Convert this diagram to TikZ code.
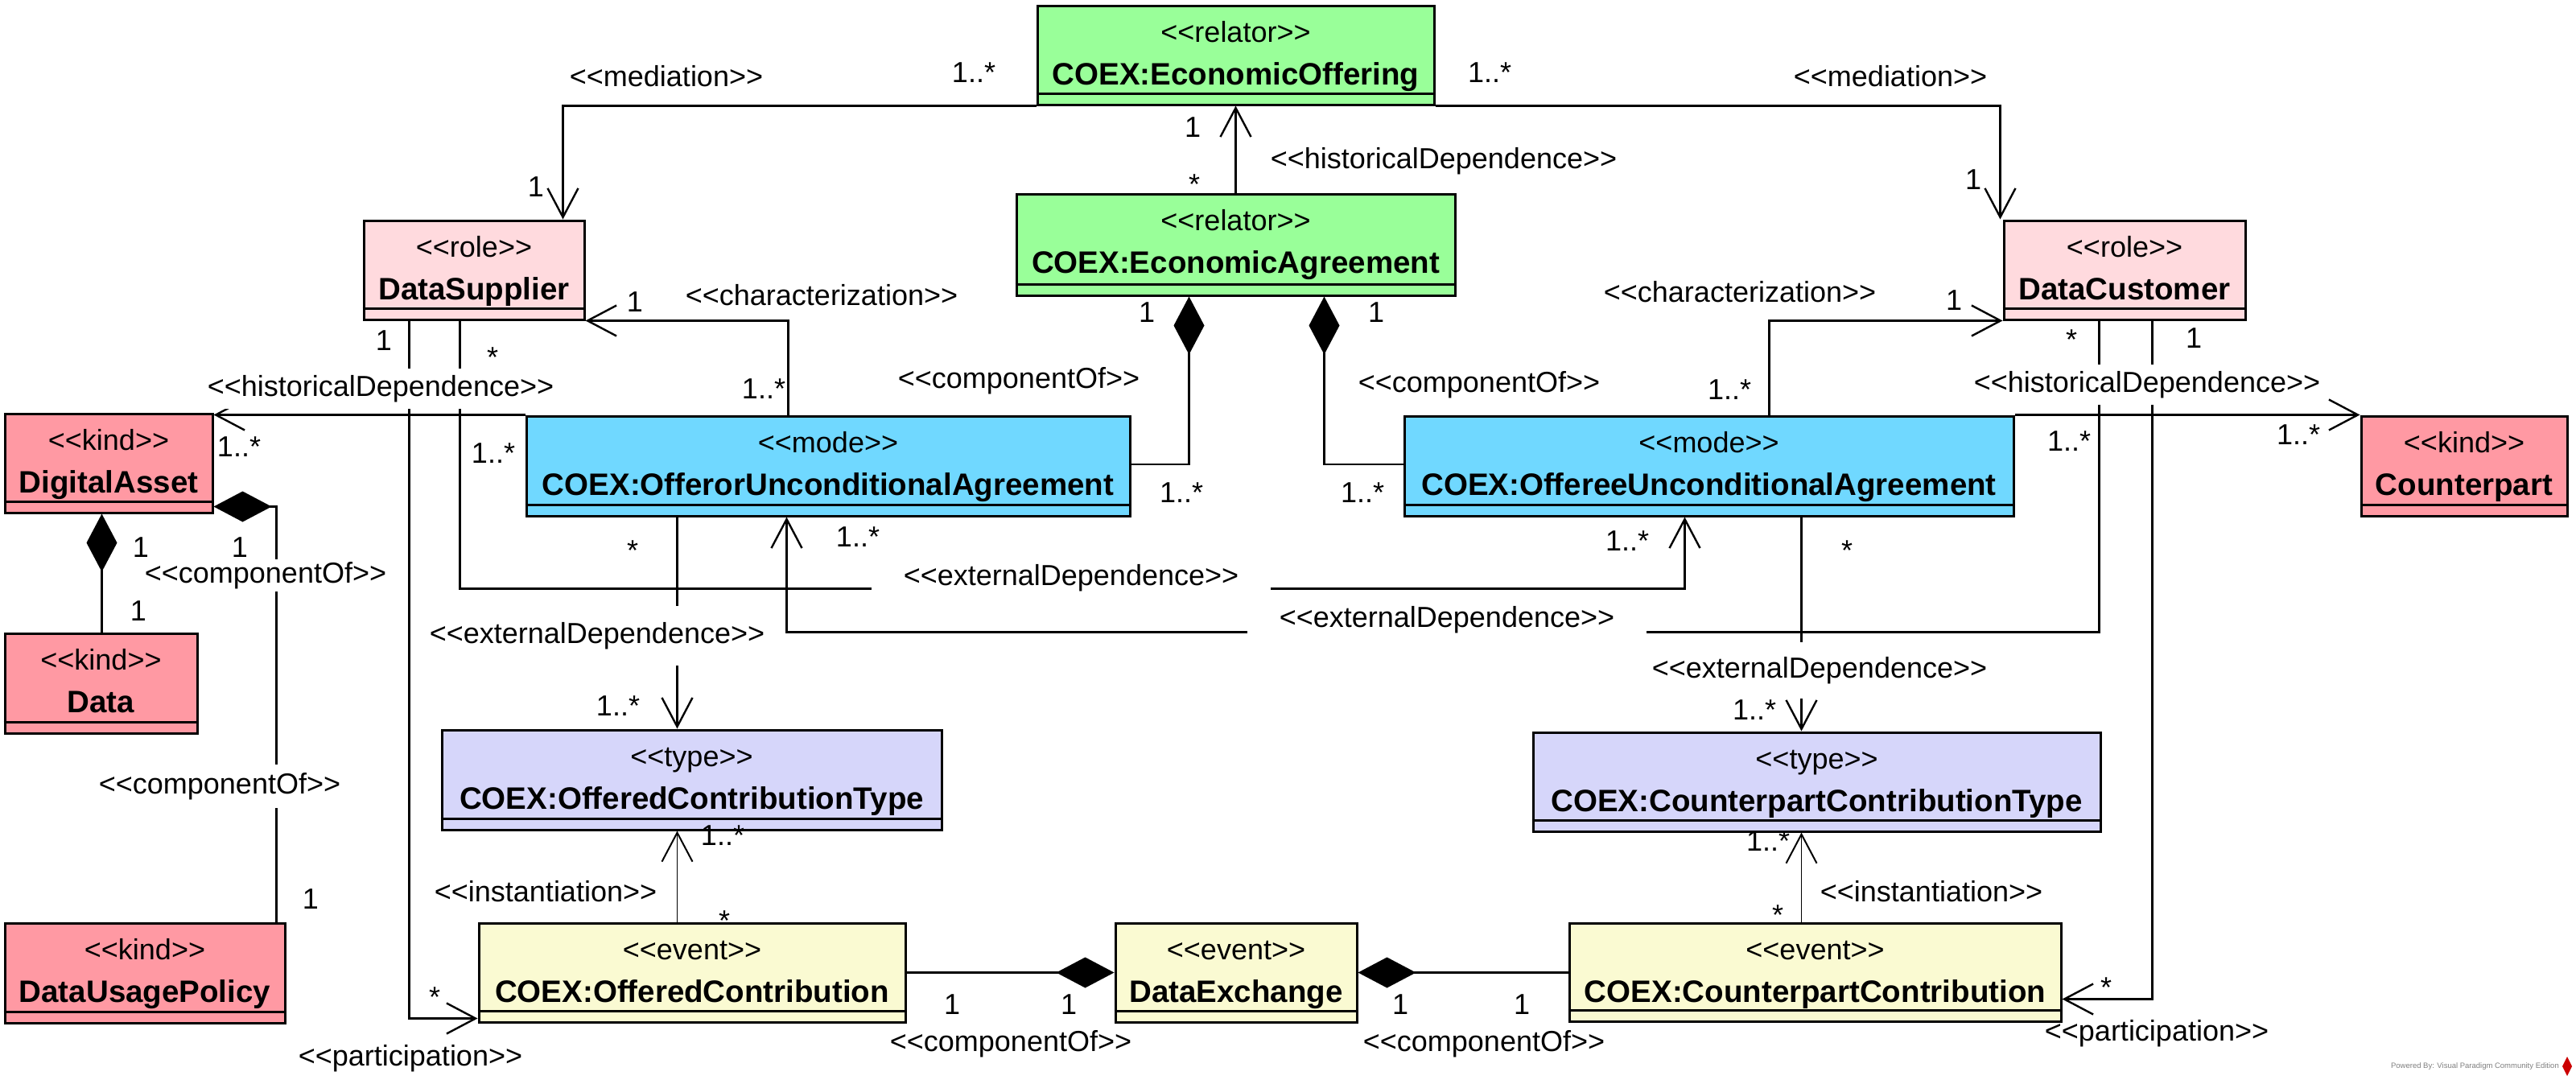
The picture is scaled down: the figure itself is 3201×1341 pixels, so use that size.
\documentclass[tikz,border=0pt]{standalone}
\usepackage{fontspec}
\setmainfont{Liberation Sans}
\usetikzlibrary{arrows.meta}
\definecolor{relc}{RGB}{153,255,153}
\definecolor{rolec}{RGB}{255,218,222}
\definecolor{kindc}{RGB}{255,153,163}
\definecolor{modec}{RGB}{112,216,255}
\definecolor{typec}{RGB}{214,214,250}
\definecolor{evc}{RGB}{250,250,210}
\newcommand{\stl}{<\kern0pt<}
\newcommand{\stg}{>\kern0pt>}
\newcommand{\st}[1]{\stl#1\stg}
\tikzset{
  umlbox/.style={draw=black, line width=3pt, inner sep=0pt},
  stereo/.style={font=\fontsize{36}{40}\selectfont, anchor=base, inner sep=0pt},
  nametext/.style={font=\fontsize{38.5}{42}\selectfont\bfseries, anchor=base, inner sep=0pt},
  conn/.style={line width=2.4pt, line join=miter},
  thinconn/.style={line width=1.5pt},
  oarrow/.style={-{Straight Barb[length=36pt,width=38pt]}},
  comp/.style={{Diamond[length=72pt,width=38pt]}-},
  lab/.style={font=\fontsize{36}{40}\selectfont, inner sep=0pt},
  wlab/.style={font=\fontsize{36}{40}\selectfont, fill=white, inner xsep=3pt, inner ysep=8pt},
  mult/.style={font=\fontsize{36}{40}\selectfont, inner sep=0pt},
}
\newcommand{\ubox}[8]{%
  \node[umlbox, fill=#6, minimum width={#4-#2}, minimum height={#5-#3}] (#1) at ({(#2+#4)/2},{(#3+#5)/2}) {};
  \draw[line width=3pt] (#1.south west) ++(0,15pt) -- ++({#4-#2},0);
  \node[stereo] at ({(#2+#4)/2},{#3+45}) {\st{#7}};
  \node[nametext] at ({(#2+#4)/2},{#3+98}) {#8};
}
\begin{document}
\begin{tikzpicture}[x=1pt,y=-1pt]
\fill[white] (0,0) rectangle (3201,1341);
\useasboundingbox (0,0) rectangle (3201,1341);

% boxes
\ubox{eo}{1289}{7}{1782}{130}{relc}{relator}{COEX:EconomicOffering}
\ubox{ea}{1263}{241}{1808}{367}{relc}{relator}{COEX:EconomicAgreement}
\ubox{ds}{452}{274}{726}{397}{rolec}{role}{DataSupplier}
\ubox{dc}{2490}{274}{2790}{397}{rolec}{role}{DataCustomer}
\ubox{da}{6}{514}{264}{637}{kindc}{kind}{DigitalAsset}
\ubox{data}{6}{787}{245}{911}{kindc}{kind}{Data}
\ubox{dup}{6}{1147}{354}{1271}{kindc}{kind}{DataUsagePolicy}
\ubox{off}{654}{517}{1404}{641}{modec}{mode}{COEX:OfferorUnconditionalAgreement}
\ubox{ofe}{1745}{517}{2502}{641}{modec}{mode}{COEX:OffereeUnconditionalAgreement}
\ubox{cp}{2934}{517}{3190}{641}{kindc}{kind}{Counterpart}
\ubox{oct}{549}{907}{1170}{1031}{typec}{type}{COEX:OfferedContributionType}
\ubox{cct}{1905}{910}{2610}{1033}{typec}{type}{COEX:CounterpartContributionType}
\ubox{oc}{595}{1147}{1125}{1270}{evc}{event}{COEX:OfferedContribution}
\ubox{dx}{1386}{1147}{1686}{1270}{evc}{event}{DataExchange}
\ubox{cc}{1950}{1147}{2561}{1269}{evc}{event}{COEX:CounterpartContribution}

% connectors
\draw[conn,oarrow] (eo.south west) -| ([xshift=249pt]ds.north west);
\draw[conn,oarrow] (eo.south east) -| ([xshift=-3pt]dc.north west);
\draw[conn,oarrow] (ea.north) -- (eo.south);
\draw[conn,oarrow] ([xshift=327pt]off.north west) |- (ds.south east);
\draw[conn,oarrow] ([xshift=455pt]ofe.north west) |- (dc.south west);
\draw[conn,comp] ([xshift=216pt]ea.south west) |- ([yshift=2pt]off.east);
\draw[conn,comp] ([xshift=384pt]ea.south west) |- ([yshift=2pt]ofe.west);
\draw[conn,oarrow] (off.north west) -- (da.east |- off.north west);
\draw[conn,oarrow] (ofe.north east) -- (cp.west |- ofe.north east);
\draw[conn,oarrow] ([xshift=121pt]ds.south west) -- ++(0,333) -| ([xshift=350pt]ofe.south west);
\draw[conn,oarrow] ([xshift=120pt]dc.south west) -- ++(0,387) -| ([xshift=325pt]off.south west);
\coordinate (t1) at ([xshift=189pt]off.south west);
\draw[conn,oarrow] (t1) -- (t1 |- oct.north);
\coordinate (t2) at ([xshift=495pt]ofe.south west);
\draw[conn,oarrow] (t2) -- (t2 |- cct.north);
\coordinate (i1) at ([xshift=248pt]oc.north west);
\draw[thinconn,-{Straight Barb[length=36pt,width=38pt,line width=2pt]}] (i1) -- (i1 |- oct.south);
\coordinate (i2) at ([xshift=290pt]cc.north west);
\draw[thinconn,-{Straight Barb[length=36pt,width=38pt,line width=2pt]}] (i2) -- (i2 |- cct.south);
\coordinate (c1) at ([xshift=122pt]da.south west);
\draw[conn,comp] (c1) -- (c1 |- data.north);
\draw[conn,comp] ([yshift=9pt]da.south east) -| ([xshift=339pt]dup.north west);
\draw[conn,comp] (dx.west) -- (oc.east |- dx.west);
\draw[conn,comp] (dx.east) -- (cc.west |- dx.east);
\draw[conn,oarrow] ([xshift=58pt]ds.south west) |- ([yshift=6pt]oc.south west);
\draw[conn,oarrow] ([xshift=186pt]dc.south west) |- ([yshift=29pt]cc.south east);

% connector labels
\node[lab] (l1) at (828,95) {\st{mediation}};
\node[lab] (l2) at (2349,95) {\st{mediation}};
\node[lab] (l3) at (1794,200) {\st{historicalDependence}};
\node[lab] (l4) at (1021,367) {\st{characterization}};
\node[lab] (l5) at (2162,363) {\st{characterization}};
\node[lab] (l6) at (1266,473) {\st{componentOf}};
\node[lab] (l7) at (1838,478) {\st{componentOf}};
\node[wlab] (l8) at (473,483) {\st{historicalDependence}};
\node[wlab] (l9) at (2668,478) {\st{historicalDependence}};
\node[wlab, inner xsep=40pt] (l10) at (1331,718) {\st{externalDependence}};
\node[wlab, inner xsep=40pt] (l11) at (1798,770) {\st{externalDependence}};
\node[wlab, inner ysep=20pt] (l12) at (742,790) {\st{externalDependence}};
\node[wlab, inner ysep=18pt] (l13) at (2261,833) {\st{externalDependence}};
\node[wlab, inner ysep=3pt] (l14) at (330,715) {\st{componentOf}};
\node[wlab, inner ysep=10pt] (l15) at (273,977) {\st{componentOf}};
\node[lab] (l16) at (678,1108) {\st{instantiation}};
\node[lab] (l17) at (2400,1108) {\st{instantiation}};
\node[lab] (l18) at (1256,1297) {\st{componentOf}};
\node[lab] (l19) at (1844,1297) {\st{componentOf}};
\node[lab] (l20) at (510,1315) {\st{participation}};
\node[lab] (l21) at (2680,1284) {\st{participation}};

% multiplicities
\node[mult] (m1) at (1210,90) {1..*};
\node[mult] (m2) at (666,232) {1};
\node[mult] (m3) at (1851,90) {1..*};
\node[mult] (m4) at (2452,223) {1};
\node[mult] (m5) at (1482,158) {1};
\node[mult] (m6) at (1484,229) {*};
\node[mult] (m7) at (789,375) {1};
\node[mult] (m8) at (949,483) {1..*};
\node[mult] (m9) at (2428,373) {1};
\node[mult] (m10) at (2149,484) {1..*};
\node[mult] (m11) at (1425,388) {1};
\node[mult] (m12) at (1468,612) {1..*};
\node[mult] (m13) at (1710,388) {1};
\node[mult] (m14) at (1693,612) {1..*};
\node[mult] (m15) at (297,555) {1..*};
\node[mult] (m16) at (613,563) {1..*};
\node[mult] (m17) at (2856,540) {1..*};
\node[mult] (m18) at (2571,548) {1..*};
\node[mult] (m19) at (477,423) {1};
\node[mult] (m20) at (612,444) {*};
\node[mult] (m21) at (2574,422) {*};
\node[mult] (m22) at (2726,420) {1};
\node[mult] (m23) at (2022,672) {1..*};
\node[mult] (m24) at (1066,667) {1..*};
\node[mult] (m25) at (786,684) {*};
\node[mult] (m26) at (768,877) {1..*};
\node[mult] (m27) at (2295,684) {*};
\node[mult] (m28) at (2180,882) {1..*};
\node[mult] (m29) at (898,1038) {1..*};
\node[mult] (m30) at (900,1144) {*};
\node[mult] (m31) at (2197,1045) {1..*};
\node[mult] (m32) at (2209,1137) {*};
\node[mult] (m33) at (175,680) {1};
\node[mult] (m34) at (172,759) {1};
\node[mult] (m35) at (298,680) {1};
\node[mult] (m36) at (386,1117) {1};
\node[mult] (m37) at (1183,1248) {1};
\node[mult] (m38) at (1328,1248) {1};
\node[mult] (m39) at (1740,1248) {1};
\node[mult] (m40) at (1891,1248) {1};
\node[mult] (m41) at (540,1239) {*};
\node[mult] (m42) at (2617,1227) {*};

% watermark
\node[font=\fontsize{9.5}{11}\selectfont, text=gray, anchor=east, inner sep=0pt] (wm) at (3180,1325) {Powered By: Visual Paradigm Community Edition};
\fill[red!80!black] (3190,1313) -- (3196,1325) -- (3190,1337) -- (3184,1325) -- cycle;
\end{tikzpicture}
\end{document}
